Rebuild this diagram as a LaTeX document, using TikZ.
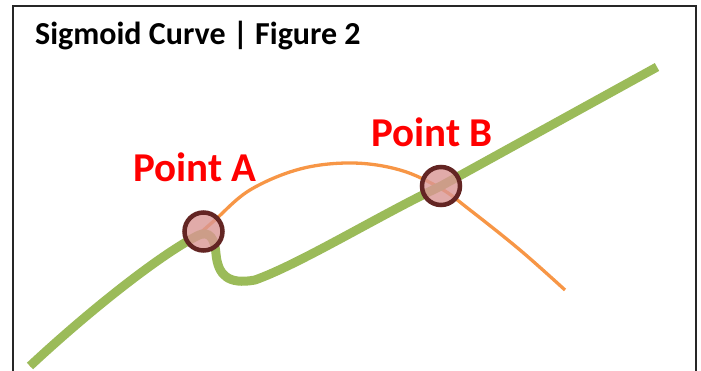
\documentclass[tikz,border=0pt]{standalone}
\usepackage{fontspec}
\setmainfont{Carlito}
\definecolor{cgreen}{HTML}{9BBB59}
\definecolor{corange}{HTML}{F79646}
\definecolor{cpink}{HTML}{D99694}
\definecolor{cbrown}{HTML}{632523}
\begin{document}
\begin{tikzpicture}[x=1pt,y=-1pt,
  greenline/.style={draw=cgreen,line width=9pt},
  orangeline/.style={draw=corange,line width=3.3pt},
  marker/.style={circle,minimum size=38pt,inner sep=0pt,draw=cbrown,line width=4.5pt,fill=cpink,fill opacity=0.8,draw opacity=1},
  ptlabel/.style={text=red,font=\bfseries\fontsize{41}{42}\selectfont,inner sep=0pt,anchor=base}]
\useasboundingbox (0,0) rectangle (701,371);
\begin{scope}
\clip (0,0) rectangle (701,371);
\draw[line width=2pt,black!85] (12.5,6) rectangle (696,400);
\end{scope}
\node[anchor=base west,inner sep=0pt,font=\bfseries\fontsize{32}{33}\selectfont] (title) at (35,45) {Sigmoid Curve | Figure 2};
\coordinate (s) at (30,366);
\coordinate (e) at (657,67);
\coordinate (oe) at (565,290);
% orange curve
\draw[orangeline,line cap=butt] (s) .. controls (90,310) and (160,255) .. (197,236)
  plot[smooth,tension=0.6] coordinates {(197,236) (215,220) (250,190) (300,169) (352,163) (400,170) (440,188) (470,210) (520,250) (oe)};
% green curve
\draw[greenline] (s) .. controls (90,310) and (160,255) .. (197,236)
  .. controls (210,229) and (215,240) .. (216,254)
  .. controls (218,275) and (228,285) .. (255,280)
  .. controls (300,264) and (380,215) .. (441,186) -- (e);
\node[marker] (A) at (203.5,231.5) {};
\node[marker] (B) at (441,186) {};
\node[ptlabel] (la) at (195,182) {Point A};
\node[ptlabel] (lb) at (432,147) {Point B};
\end{tikzpicture}
\end{document}
